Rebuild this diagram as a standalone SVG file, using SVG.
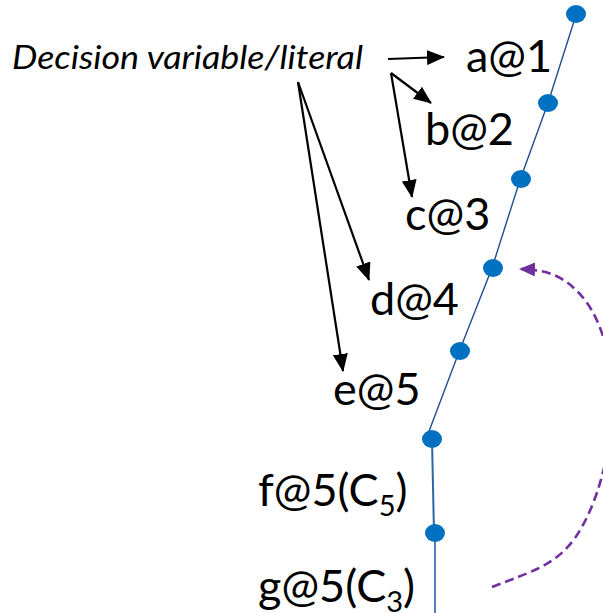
<svg xmlns="http://www.w3.org/2000/svg" width="603" height="613" viewBox="0 0 603 613">
  <style>
    .lit { font-family: Lato, "Liberation Sans", sans-serif; font-size: 45px; fill: #000; }
    .sub { font-size: 29px; }
    .note { font-family: Lato, "Liberation Sans", sans-serif; font-size: 33px; font-style: italic; fill: #000; }
    .dot { fill: #0070C0; }
    .trail { fill: none; stroke: #1F4E8C; stroke-width: 1.4; }
    .trail2 { fill: none; stroke: #2E64A8; stroke-width: 2; }
    .trail3 { fill: none; stroke: #5A80B8; stroke-width: 2; }
    .ptr { fill: none; stroke: #000; stroke-width: 2.2; marker-end: url(#head); }
    .back { fill: none; stroke: #7030A0; stroke-width: 2.6; stroke-dasharray: 9 5; marker-end: url(#phead); }
  </style>
  <defs>
    <marker id="head" viewBox="0 0 18 15" markerWidth="18" markerHeight="15" refX="17" refY="7.5" orient="auto" markerUnits="userSpaceOnUse">
      <path d="M0,0 L18,7.5 L0,15 z" fill="#000"/>
    </marker>
    <marker id="phead" viewBox="0 0 16 14" markerWidth="16" markerHeight="14" refX="14" refY="7" orient="auto" markerUnits="userSpaceOnUse">
      <path d="M0,0 L16,7 L0,14 z" fill="#7030A0"/>
    </marker>
  </defs>

  <!-- connectors: decision trail, annotation pointers, backjump -->
  <g id="connectors">
    <polyline class="trail" points="576,15 548,103 520,180 492,268 459,352 428,434"/>
    <line class="trail2" x1="432" y1="439" x2="434" y2="533"/>
    <line class="trail3" x1="435" y1="533" x2="435" y2="613"/>
    <line class="ptr" x1="388" y1="59" x2="444" y2="57"/>
    <line class="ptr" x1="391" y1="73" x2="431" y2="103"/>
    <line class="ptr" x1="391" y1="73" x2="412" y2="197"/>
    <line class="ptr" x1="298" y1="82" x2="369" y2="280"/>
    <line class="ptr" x1="298" y1="82" x2="343" y2="371"/>
    <path class="back" d="M492,587 C530,572 555,566 575,538 C598,505 612,450 612,400 C612,350 598,312 578,292 C565,279 552,270 521,269"/>
  </g>

  <g id="note">
    <text class="note" x="12" y="69" textLength="351" lengthAdjust="spacingAndGlyphs">Decision variable/literal</text>
  </g>

  <g id="lit-a">
    <ellipse class="dot" cx="576" cy="14" rx="10" ry="9"/>
    <text class="lit" x="466" y="72">a@1</text>
  </g>
  <g id="lit-b">
    <ellipse class="dot" cx="548" cy="103" rx="10" ry="9"/>
    <text class="lit" x="425" y="145">b@2</text>
  </g>
  <g id="lit-c">
    <ellipse class="dot" cx="521" cy="179" rx="10" ry="9"/>
    <text class="lit" x="405" y="230">c@3</text>
  </g>
  <g id="lit-d">
    <ellipse class="dot" cx="493" cy="268" rx="10" ry="9"/>
    <text class="lit" x="370" y="315">d@4</text>
  </g>
  <g id="lit-e">
    <ellipse class="dot" cx="460" cy="351" rx="10" ry="9"/>
    <text class="lit" x="333" y="405">e@5</text>
  </g>
  <g id="lit-f">
    <ellipse class="dot" cx="432" cy="439" rx="10" ry="9"/>
    <text class="lit" x="258" y="506">f@5(C<tspan class="sub" dy="10">5</tspan><tspan dy="-10">)</tspan></text>
  </g>
  <g id="lit-g">
    <ellipse class="dot" cx="435" cy="533" rx="10" ry="9"/>
    <text class="lit" x="258" y="602">g@5(C<tspan class="sub" dy="10">3</tspan><tspan dy="-10">)</tspan></text>
  </g>
</svg>
